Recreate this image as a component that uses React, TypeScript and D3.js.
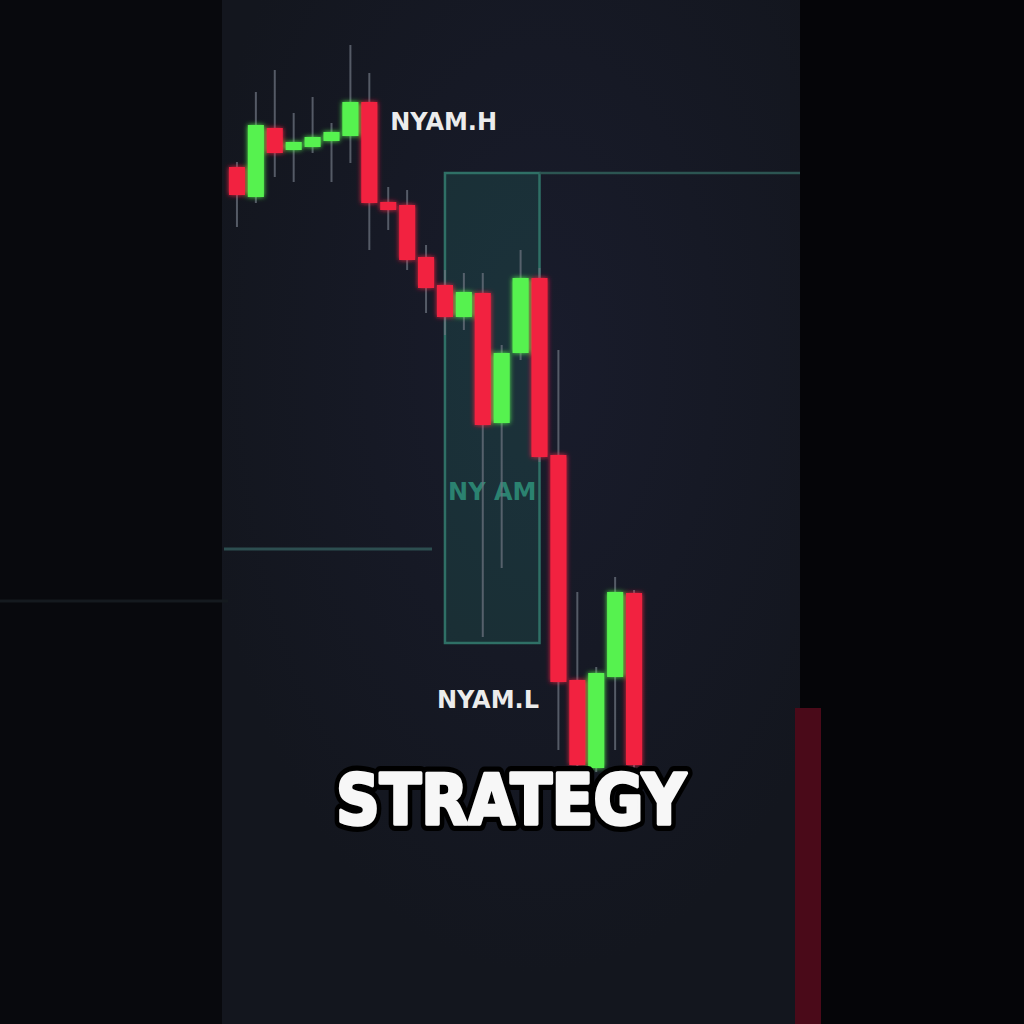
import * as d3 from "d3";

// 5-minute candles, NY session
const times = [
  "08:40", "08:45", "08:50", "08:55", "09:00", "09:05", "09:10", "09:15",
  "09:20", "09:25", "09:30", "09:35", "09:40", "09:45", "09:50", "09:55",
  "10:00", "10:05", "10:10", "10:15", "10:20", "10:25",
];
const opens = [
  19266, 19206, 19344, 19300, 19306, 19318, 19328, 19396, 19196, 19190, 19086,
  19030, 18966, 19014, 18754, 18894, 19044, 18690, 18240, 18064, 18246, 18414,
];
const highs = [
  19276, 19416, 19460, 19374, 19406, 19354, 19510, 19454, 19226, 19220, 19110,
  19060, 19054, 19054, 18910, 19100, 19064, 18900, 18416, 18266, 18446, 18420,
];
const lows = [
  19146, 19194, 19246, 19236, 19294, 19236, 19274, 19100, 19140, 19060, 18974,
  18930, 18940, 18326, 18464, 18880, 18676, 18100, 18060, 18056, 18100, 18060,
];
const closes = [
  19210, 19350, 19294, 19316, 19326, 19336, 19396, 19194, 19180, 19080, 19024,
  18966, 19016, 18750, 18894, 19044, 18686, 18236, 18070, 18254, 18416, 18070,
];

// session box + levels
const sessionStart = "09:35";
const sessionEnd = "10:00";
const sessionHigh = 19254;
const sessionLow = 18314;
const priorLevel = 18502;
const labelHighPrice = 19340;
const labelLowPrice = 18184;
const boxLabelPrice = 18600;

const W = 1024;
const H = 1024;
const panelLeft = 222;
const panelRight = 800;

const green = "#57f250";
const red = "#f2203f";

export default function App() {
  const x = d3
    .scaleBand<string>()
    .domain(times)
    .range([227.5, 643.5])
    .paddingInner(0.15)
    .paddingOuter(0.075);
  const y = d3.scaleLinear().domain([18000, 19600]).range([800, 0]);
  const bw = x.bandwidth();
  const cx = (t: string) => (x(t) ?? 0) + bw / 2;

  const boxX0 = cx(sessionStart);
  const boxX1 = cx(sessionEnd);

  const caption = {
    x: 336,
    y: 824,
    textLength: 350,
    lengthAdjust: "spacingAndGlyphs",
    fontFamily: "DejaVu Sans",
    fontWeight: "bold",
    fontSize: 70,
    strokeLinejoin: "round" as const,
  };

  return (
    <svg
      width={W}
      height={H}
      style={{ position: "absolute", left: 0, top: 0, display: "block" }}
    >
      <defs>
        <filter id="glow" x="-50%" y="-20%" width="200%" height="140%">
          <feGaussianBlur stdDeviation="2.5" result="b" />
          <feMerge>
            <feMergeNode in="b" />
            <feMergeNode in="SourceGraphic" />
          </feMerge>
        </filter>
        <radialGradient id="panelGlow" cx="0.55" cy="0.35" r="0.6">
          <stop offset="0%" stopColor="#191c2c" />
          <stop offset="100%" stopColor="#13161e" />
        </radialGradient>
      </defs>

      {/* background */}
      <rect x={0} y={0} width={W} height={H} fill="#08090d" />
      <rect x={panelRight} y={0} width={W - panelRight} height={H} fill="#050508" />
      <rect
        x={panelLeft}
        y={0}
        width={panelRight - panelLeft}
        height={H}
        fill="url(#panelGlow)"
      />
      <line x1={0} x2={panelLeft + 6} y1={601} y2={601} stroke="#151a1f" strokeWidth={3} />
      <rect x={795} y={708} width={26} height={H - 708} fill="#4a0a19" />

      {/* session box */}
      <rect
        x={boxX0}
        y={y(sessionHigh)}
        width={boxX1 - boxX0}
        height={y(sessionLow) - y(sessionHigh)}
        fill="#2b7e72"
        fillOpacity={0.22}
        stroke="#2f7066"
        strokeWidth={2.5}
      />
      <line
        x1={boxX1}
        x2={panelRight}
        y1={y(sessionHigh)}
        y2={y(sessionHigh)}
        stroke="#2c5552"
        strokeWidth={2.5}
      />
      <line
        x1={panelLeft + 2}
        x2={432}
        y1={y(priorLevel)}
        y2={y(priorLevel)}
        stroke="#2d4e50"
        strokeWidth={3}
      />
      <text
        x={(boxX0 + boxX1) / 2}
        y={y(boxLabelPrice)}
        textAnchor="middle"
        fontFamily="DejaVu Sans"
        fontWeight="bold"
        fontSize={24}
        fill="#2b8270"
      >
        NY AM
      </text>

      {/* wicks */}
      <g stroke="#6b717e" strokeWidth={2} strokeOpacity={0.75}>
        {times.map((t, i) => (
          <line key={t} x1={cx(t)} x2={cx(t)} y1={y(highs[i])} y2={y(lows[i])} />
        ))}
      </g>

      {/* bodies */}
      <g filter="url(#glow)">
        {times.map((t, i) => {
          const up = closes[i] >= opens[i];
          const top = y(Math.max(opens[i], closes[i]));
          const bot = y(Math.min(opens[i], closes[i]));
          return (
            <rect
              key={t}
              x={x(t)}
              y={top}
              width={bw}
              height={Math.max(bot - top, 2)}
              fill={up ? green : red}
            />
          );
        })}
      </g>

      {/* level labels */}
      <text
        x={cx(times[8]) + 2}
        y={y(labelHighPrice)}
        fontFamily="DejaVu Sans"
        fontWeight="bold"
        fontSize={24}
        fill="#ececec"
      >
        NYAM.H
      </text>
      <text
        x={boxX0 - 8}
        y={y(labelLowPrice)}
        fontFamily="DejaVu Sans"
        fontWeight="bold"
        fontSize={24}
        fill="#ececec"
      >
        NYAM.L
      </text>

      {/* caption: black outline, then white fattened fill */}
      <text {...caption} fill="#000" stroke="#000" strokeWidth={14}>
        STRATEGY
      </text>
      <text {...caption} fill="#f7f7f7" stroke="#f7f7f7" strokeWidth={3.5}>
        STRATEGY
      </text>
    </svg>
  );
}
